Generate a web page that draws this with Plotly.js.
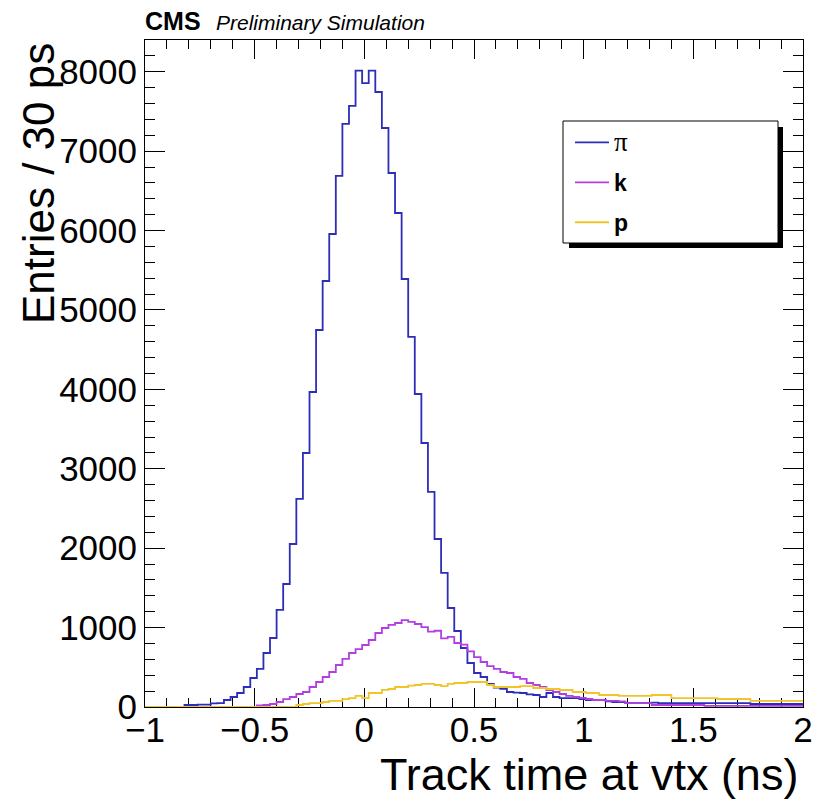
<!DOCTYPE html>
<html>
<head>
<meta charset="utf-8">
<script src="https://cdn.plot.ly/plotly-3.0.1.min.js"></script>
<style>html,body{margin:0;padding:0;background:#fff;}#chart{width:825px;height:802px;}</style>
</head>
<body>
<div id="chart"></div>
<script>
// Histogram binning: 100 bins of 30 ps from -1 to 2 ns
var xMin = -1.0;
var binWidth = 0.03;
var nBins = 100;

// Bin contents (entries per 30 ps bin)
var pionCounts = [
  0, 0, 0, 0, 0, 0, 25, 25, 30, 30,
  45, 50, 88, 126, 176, 252, 365, 479, 680, 869,
  1222, 1549, 2053, 2620, 3199, 3967, 4748, 5365, 5957, 6688,
  7343, 7570, 8014, 7857, 8014, 7745, 7292, 6725, 6221, 5390,
  4660, 3942, 3325, 2708, 2116, 1688, 1247, 957, 743, 554,
  428, 378, 290, 245, 230, 189, 180, 176, 160, 151,
  126, 176, 126, 113, 113, 113, 100, 88, 88, 88,
  70, 63, 63, 50, 50, 50, 50, 55, 50, 50,
  50, 50, 50, 50, 50, 50, 50, 50, 50, 50,
  50, 50, 38, 38, 38, 38, 38, 38, 38, 38
];
var kaonCounts = [
  0, 0, 0, 0, 0, 0, 0, 0, 0, 0,
  0, 0, 0, 0, 0, 0, 0, 20, 25, 38,
  63, 100, 126, 164, 189, 252, 315, 378, 441, 529,
  605, 680, 730, 781, 844, 932, 995, 1033, 1058, 1095,
  1071, 1045, 1005, 950, 960, 865, 882, 806, 785, 700,
  628, 567, 516, 479, 441, 428, 378, 353, 302, 277,
  252, 214, 189, 164, 139, 126, 115, 101, 88, 88,
  76, 76, 70, 50, 50, 50, 50, 25, 25, 25,
  25, 25, 25, 25, 25, 13, 13, 13, 13, 13,
  13, 13, 13, 13, 13, 13, 13, 13, 13, 13
];
var protonCounts = [
  0, 0, 0, 0, 0, 0, 0, 0, 0, 0,
  0, 0, 0, 0, 0, 0, 0, 0, 0, 0,
  0, 0, 0, 25, 38, 50, 50, 63, 76, 76,
  100, 113, 139, 113, 176, 176, 215, 227, 252, 252,
  270, 277, 290, 290, 277, 264, 290, 302, 302, 315,
  315, 315, 277, 252, 252, 252, 252, 264, 264, 239,
  239, 227, 227, 214, 214, 189, 189, 176, 176, 151,
  151, 151, 139, 139, 139, 139, 139, 151, 151, 151,
  113, 113, 113, 113, 113, 113, 113, 101, 101, 101,
  101, 101, 76, 76, 76, 76, 76, 76, 76, 76
];

var seriesNames = ['<span style="font-family:\'Liberation Serif\';font-size:27px">π</span>', '<b>k</b>', '<b>p</b>'];
var seriesColors = ['#2d2db8', '#b23fe0', '#f0c52a'];

var xTickVals = [-1, -0.5, 0, 0.5, 1, 1.5, 2];
var xTickText = ['\u22121', '\u22120.5', '0', '0.5', '1', '1.5', '2'];
var yTickVals = [0, 1000, 2000, 3000, 4000, 5000, 6000, 7000, 8000];
var yTickText = ['0', '1000', '2000', '3000', '4000', '5000', '6000', '7000', '8000'];

var xTitle = 'Track time at vtx (ns)';
var yTitle = 'Entries / 30 ps';

// bin edges
var edges = [];
for (var i = 0; i <= nBins; i++) edges.push(+(xMin + i * binWidth).toFixed(4));

function stepTrace(counts, name, color, group) {
  var y = counts.slice();
  y.push(counts[counts.length - 1]);
  return {
    type: 'scatter', mode: 'lines', x: edges, y: y, name: name,
    legendgroup: group,
    line: {shape: 'hv', color: color, width: 1.8},
    hoverinfo: 'skip'
  };
}

var data = [
  stepTrace(pionCounts, seriesNames[0], seriesColors[0], 'g1'),
  stepTrace(kaonCounts, seriesNames[1], seriesColors[1], 'g2'),
  stepTrace(protonCounts, seriesNames[2], seriesColors[2], 'g3')
];

var L = 145, R = 22, T = 40, B = 95, W = 825, H = 802;
var pw = W - L - R, ph = H - T - B;
function px(x) { return (x - L) / pw; }
function py(y) { return (H - B - y) / ph; }

var tickFont = {family: 'Liberation Sans, Arial, sans-serif', size: 35, color: '#000'};

var layout = {
  width: W, height: H,
  margin: {l: L, r: R, t: T, b: B, pad: 0},
  paper_bgcolor: '#fff', plot_bgcolor: '#fff',
  showlegend: true,
  font: {family: 'Liberation Sans, Arial, sans-serif', color: '#000'},
  xaxis: {
    range: [-1, 2], showgrid: false, zeroline: false,
    showline: true, linecolor: '#000', linewidth: 1, mirror: 'ticks',
    ticks: 'inside', ticklen: 19, tickwidth: 1, tickcolor: '#000',
    tickmode: 'array', tickvals: xTickVals, ticktext: xTickText,
    tickfont: tickFont, ticklabelstandoff: -8,
    minor: {ticks: 'inside', ticklen: 9, dtick: 0.1, tick0: -1, tickcolor: '#000', tickwidth: 1, showgrid: false},
    layer: 'below traces', fixedrange: true
  },
  yaxis: {
    range: [0, 8400], showgrid: false, zeroline: false,
    showline: true, linecolor: '#000', linewidth: 1, mirror: 'ticks',
    ticks: 'inside', ticklen: 20, tickwidth: 1, tickcolor: '#000',
    tickmode: 'array', tickvals: yTickVals, ticktext: yTickText,
    tickfont: tickFont, ticklabelstandoff: 0,
    minor: {ticks: 'inside', ticklen: 10, dtick: 200, tick0: 0, tickcolor: '#000', tickwidth: 1, showgrid: false},
    layer: 'below traces', fixedrange: true
  },
  legend: {
    x: px(570), y: py(121), xanchor: 'left', yanchor: 'top',
    bgcolor: 'rgba(0,0,0,0)', borderwidth: 0,
    font: {family: 'Liberation Sans, Arial, sans-serif', size: 23, color: '#000'},
    itemwidth: 34,
    tracegroupgap: 7, itemclick: false, itemdoubleclick: false
  },
  shapes: [
    {type: 'rect', xref: 'paper', yref: 'paper', x0: px(569), x1: px(783), y0: py(127), y1: py(248),
     fillcolor: '#000', line: {width: 0}, layer: 'above'},
    {type: 'rect', xref: 'paper', yref: 'paper', x0: px(563), x1: px(778), y0: py(121), y1: py(243),
     fillcolor: '#fff', line: {color: '#000', width: 1}, layer: 'above'}
  ],
  annotations: [
    {xref: 'paper', yref: 'paper', x: px(143), y: py(21), xanchor: 'left', yanchor: 'middle',
     text: '<b>CMS</b>', showarrow: false, font: {size: 25, family: 'Liberation Sans, Arial, sans-serif'}},
    {xref: 'paper', yref: 'paper', x: px(214), y: py(22), xanchor: 'left', yanchor: 'middle',
     text: '<i>Preliminary Simulation</i>', showarrow: false, font: {size: 21, family: 'Liberation Sans, Arial, sans-serif'}},
    {xref: 'paper', yref: 'paper', x: px(800), y: py(774), xanchor: 'right', yanchor: 'middle',
     text: xTitle, showarrow: false, font: {size: 45, family: 'Liberation Sans, Arial, sans-serif'}},
    {xref: 'paper', yref: 'paper', x: px(38), y: py(184), xanchor: 'center', yanchor: 'middle',
     text: yTitle, textangle: -90, showarrow: false, font: {size: 44, family: 'Liberation Sans, Arial, sans-serif'}}
  ]
};

Plotly.newPlot('chart', data, layout, {displayModeBar: false, staticPlot: true});
</script>
</body>
</html>
